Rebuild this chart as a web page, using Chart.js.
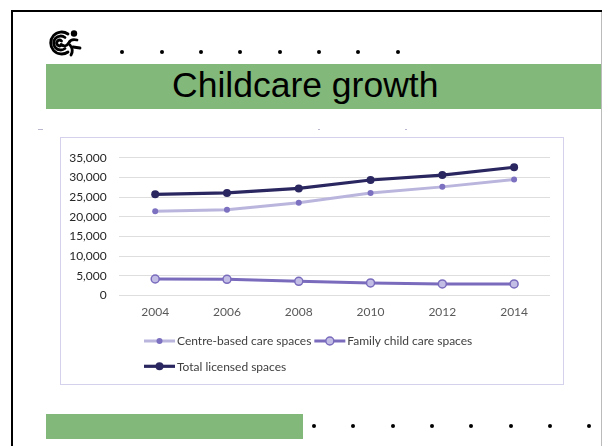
<!DOCTYPE html>
<html>
<head>
<meta charset="utf-8">
<script src="https://cdn.jsdelivr.net/npm/chart.js@4.4.1/dist/chart.umd.min.js"></script>
<style>
  html, body { margin: 0; padding: 0; background: #fff; }
  body { width: 602px; height: 446px; position: relative; overflow: hidden; font-family: "Liberation Sans", Arial, sans-serif; }
  .abs { position: absolute; }
  .dot { position: absolute; width: 4px; height: 4px; border-radius: 50%; background: #000; }
  .green { position: absolute; background: #82b87a; }
  #title { position: absolute; left: 172px; top: 64px; font-size: 35.5px; line-height: 43px; color: #000; white-space: nowrap; }
  #box { position: absolute; left: 60px; top: 137px; width: 502px; height: 246px; border: 1px solid #d4d1ec; }
  .faint { position: absolute; background: #b9b6cf; height: 1px; }
</style>
</head>
<body>
  <!-- frame -->
  <div class="abs" style="left:11px;top:10px;width:591px;height:2px;background:#000"></div>
  <div class="abs" style="left:11px;top:10px;width:2px;height:436px;background:#000"></div>
  <div class="abs" style="left:601px;top:12px;width:1px;height:434px;background:#bbb"></div>

  <!-- logo -->
  <svg class="abs" style="left:45px;top:29px" width="40" height="28" viewBox="0 0 40 28">
    <g fill="none" stroke="#000" stroke-width="2.8" stroke-linecap="round">
      <path d="M23 5 A11 11 0 1 0 23 23"/>
      <path d="M20 8.5 A7 7 0 1 0 20 19.5"/>
      <path d="M16.5 12 A2.8 2.8 0 1 0 16.5 16"/>
      <path d="M16 15.5 Q21 19 24 13.5 Q26 9.5 32 11"/>
      <path d="M25 16 Q29 21 26 26"/>
      <path d="M28 18 L35 19"/>
    </g>
    <circle cx="29" cy="4.5" r="3.2" fill="#000"/>
  </svg>

  <!-- top dots -->
  <div id="topDots"></div>

  <!-- title banner -->
  <div class="green" style="left:46px;top:64px;width:555px;height:45px"></div>
  <div id="title">Childcare growth</div>

  <!-- faint marks -->
  <div class="faint" style="left:38px;top:129px;width:5px"></div>
  <div class="faint" style="left:318px;top:129px;width:2px"></div>
  <div class="faint" style="left:405px;top:129px;width:2px"></div>

  <!-- chart -->
  <div id="box"><canvas id="chart" width="502" height="246"></canvas></div>

  <!-- bottom bar -->
  <div class="green" style="left:46px;top:414px;width:257px;height:25px"></div>
  <div id="bottomDots"></div>

<script>
const years = ['2004', '2006', '2008', '2010', '2012', '2014'];
const centreBased = [21400, 21800, 23550, 26050, 27600, 29500];
const familyCare = [4150, 4080, 3570, 3150, 2900, 2900];
const totalLicensed = [25700, 26050, 27200, 29350, 30600, 32600];
const yTicks = [0, 5000, 10000, 15000, 20000, 25000, 30000, 35000];

// decorative dots
function addDots(id, x0, y, n) {
    const holder = document.getElementById(id);
    for (let i = 0; i < n; i++) {
        const d = document.createElement('div');
        d.className = 'dot';
        d.style.left = (x0 + i * 39.35 - 2) + 'px';
        d.style.top = (y - 2) + 'px';
        holder.appendChild(d);
    }
}
addDots('topDots', 122.3, 51.7, 8);
addDots('bottomDots', 314, 426.3, 8);

// legend drawn in the style of the spreadsheet (line with marker in the middle)
const sampleLegend = {
    id: 'sampleLegend',
    afterDraw(chart) {
        const ctx = chart.ctx;
        let x = 83, y = 203;
        const maxRight = 440;
        ctx.save();
        ctx.font = '12px Lato, "Liberation Sans", sans-serif';
        ctx.textBaseline = 'middle';
        chart.data.datasets.forEach(ds => {
            const w = 31 + 2 + ctx.measureText(ds.label).width;
            if (x + w > maxRight && x > 83) { x = 83; y += 25.3; }
            ctx.strokeStyle = ds.borderColor;
            ctx.lineWidth = ds.borderWidth;
            ctx.beginPath();
            ctx.moveTo(x, y);
            ctx.lineTo(x + 31, y);
            ctx.stroke();
            ctx.beginPath();
            ctx.arc(x + 15.5, y, ds.pointRadius, 0, Math.PI * 2);
            ctx.fillStyle = ds.pointBackgroundColor;
            ctx.fill();
            if (ds.pointBorderWidth) {
                ctx.lineWidth = ds.pointBorderWidth;
                ctx.strokeStyle = ds.pointBorderColor;
                ctx.stroke();
            }
            ctx.fillStyle = '#404040';
            ctx.fillText(ds.label, x + 33, y + 0.5);
            x += w + 3;
        });
        ctx.restore();
    }
};

const ctx = document.getElementById('chart').getContext('2d');
new Chart(ctx, {
    type: 'line',
    data: {
        labels: years,
        datasets: [{
            label: 'Centre-based care spaces',
            data: centreBased,
            borderColor: '#b9b5dd',
            borderWidth: 3,
            pointRadius: 3,
            pointBackgroundColor: '#7c70c0',
            pointBorderColor: '#7c70c0',
            pointBorderWidth: 0,
            order: 2
        }, {
            label: 'Family child care spaces',
            data: familyCare,
            borderColor: '#7a6bbd',
            borderWidth: 3,
            pointRadius: 4,
            pointBackgroundColor: '#c2bde4',
            pointBorderColor: '#7a6bbd',
            pointBorderWidth: 1.5,
            order: 1
        }, {
            label: 'Total licensed spaces',
            data: totalLicensed,
            borderColor: '#2a2660',
            borderWidth: 3.2,
            pointRadius: 4,
            pointBackgroundColor: '#2a2660',
            pointBorderColor: '#2a2660',
            pointBorderWidth: 0,
            order: 0
        }]
    },
    options: {
        responsive: false,
        animation: false,
        layout: { padding: { left: 0, top: 16.3, right: 13, bottom: 0 } },
        plugins: {
            legend: { display: false },
            tooltip: { enabled: false }
        },
        scales: {
            x: {
                offset: true,
                grid: { display: false, drawTicks: false },
                border: { display: false },
                ticks: {
                    padding: 10,
                    color: '#595959',
                    font: { family: 'Lato, "Liberation Sans", sans-serif', size: 12 }
                },
                afterFit(axis) { axis.height = 88.7; }
            },
            y: {
                min: 0,
                max: 35000,
                grid: { color: '#dedede', lineWidth: 1, drawTicks: false },
                border: { display: false },
                afterBuildTicks(axis) { axis.ticks = yTicks.map(v => ({ value: v })); },
                ticks: {
                    padding: 12.6,
                    color: '#262626',
                    font: { family: 'Lato, "Liberation Sans", sans-serif', size: 12 },
                    callback: v => v.toLocaleString('en-US')
                },
                afterFit(axis) { axis.width = 58.3; }
            }
        }
    },
    plugins: [sampleLegend]
});
</script>
</body>
</html>
